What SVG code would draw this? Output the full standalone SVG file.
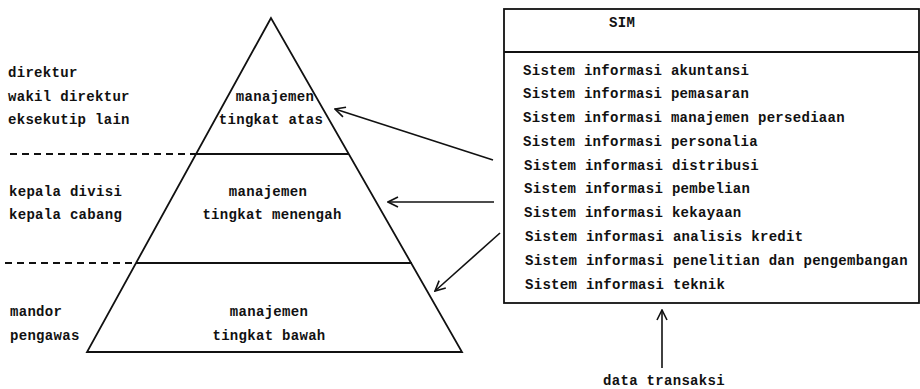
<svg xmlns="http://www.w3.org/2000/svg" width="920" height="389" viewBox="0 0 920 389">
<style>
text{font-family:"Liberation Mono","DejaVu Sans Mono",monospace;font-size:14px;letter-spacing:0.3px;font-weight:bold;fill:#111}
.c{text-anchor:middle}
.ln{stroke:#111;stroke-width:1.8;fill:none}
.dash{stroke:#111;stroke-width:1.8;stroke-dasharray:7,5;fill:none}
.arr{stroke:#111;stroke-width:1.6;fill:none;marker-end:url(#ah)}
</style>
<defs>
<marker id="ah" viewBox="0 0 12 12" refX="11" refY="6" markerWidth="12" markerHeight="12" markerUnits="userSpaceOnUse" orient="auto">
<polyline points="1,1 11,6 1,11" fill="none" stroke="#111" stroke-width="1.6"/>
</marker>
</defs>
<rect width="920" height="389" fill="#fff"/>
<g id="pyramid">
<polygon class="ln" points="271,18 87,352 462,352"/>
<line class="ln" x1="196" y1="154" x2="349" y2="154"/>
<line class="ln" x1="136" y1="263" x2="412" y2="263"/>
</g>
<g id="top-level">
<text class="c" x="275" y="101">manajemen</text>
<text class="c" x="271" y="124">tingkat atas</text>
</g>
<g id="middle-level">
<text class="c" x="268" y="196">manajemen</text>
<text class="c" x="272" y="219">tingkat menengah</text>
</g>
<g id="bottom-level">
<text class="c" x="269" y="316">manajemen</text>
<text class="c" x="269" y="340">tingkat bawah</text>
</g>
<g id="top-roles">
<text x="8" y="77">direktur</text>
<text x="8" y="101">wakil direktur</text>
<text x="8" y="124">eksekutip lain</text>
</g>
<g id="middle-roles">
<text x="9" y="196">kepala divisi</text>
<text x="9" y="219">kepala cabang</text>
</g>
<g id="bottom-roles">
<text x="10" y="316">mandor</text>
<text x="10" y="340">pengawas</text>
</g>
<g id="dividers">
<line class="dash" x1="10" y1="154" x2="196" y2="154"/>
<line class="dash" x1="5" y1="263" x2="136" y2="263"/>
</g>
<g id="sim">
<rect class="ln" x="504" y="9" width="415" height="294"/>
<line class="ln" x1="504" y1="52" x2="919" y2="52"/>
<text x="609" y="27">SIM</text>
<text x="523" y="75">Sistem informasi akuntansi</text>
<text x="523" y="98">Sistem informasi pemasaran</text>
<text x="523" y="122">Sistem informasi manajemen persediaan</text>
<text x="523" y="146">Sistem informasi personalia</text>
<text x="524" y="170">Sistem informasi distribusi</text>
<text x="524" y="193">Sistem informasi pembelian</text>
<text x="524" y="217">Sistem informasi kekayaan</text>
<text x="525" y="241">Sistem informasi analisis kredit</text>
<text x="525" y="265">Sistem informasi penelitian dan pengembangan</text>
<text x="525" y="289">Sistem informasi teknik</text>
</g>
<g id="data-transaksi">
<text class="c" x="664" y="385">data transaksi</text>
</g>
<g id="connectors">
<line class="arr" x1="493" y1="160" x2="335" y2="109"/>
<line class="arr" x1="494" y1="202" x2="388" y2="202"/>
<line class="arr" x1="500" y1="233" x2="435" y2="291"/>
<line class="arr" x1="662" y1="368" x2="662" y2="310"/>
</g>
</svg>
